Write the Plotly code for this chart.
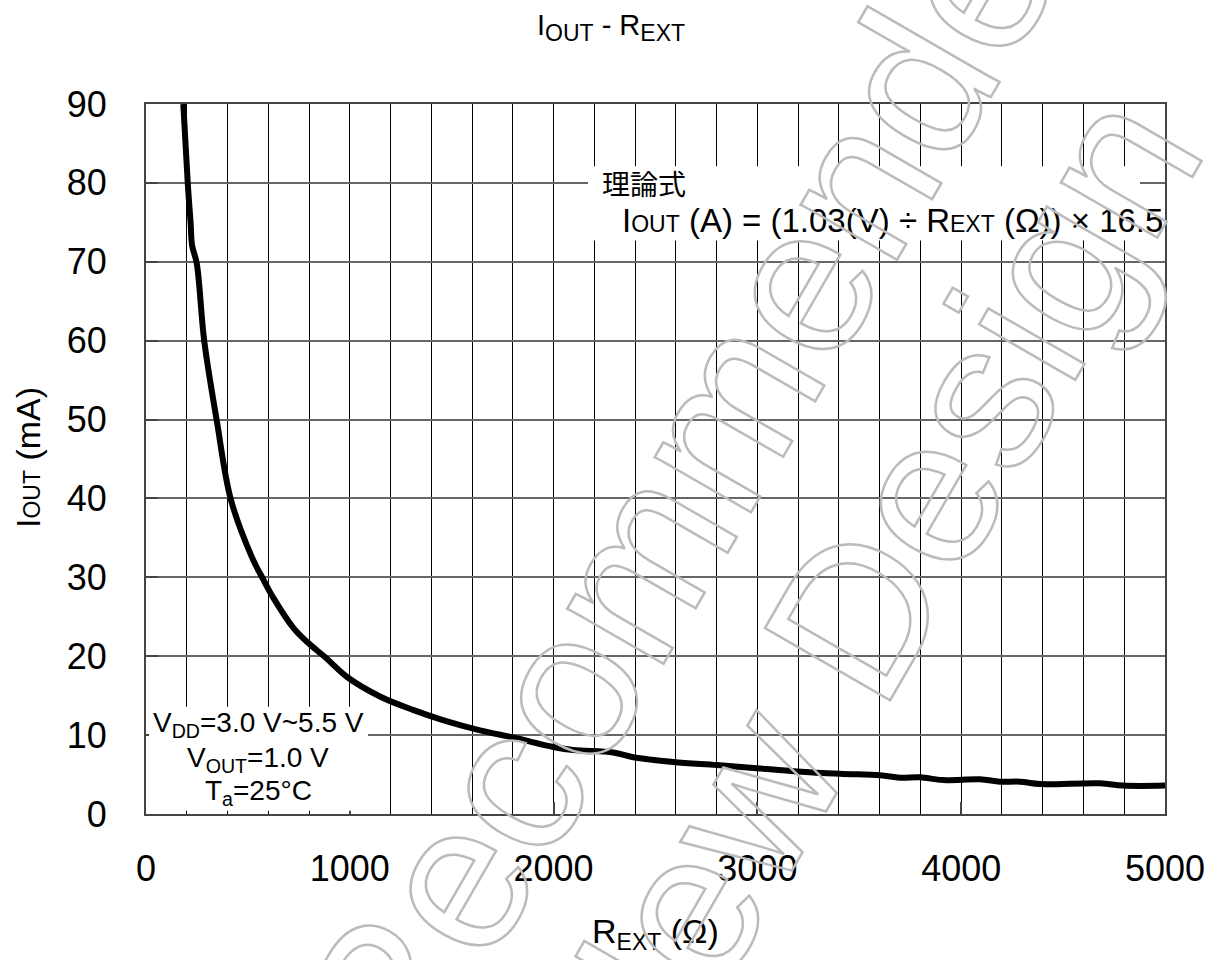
import plotly.graph_objects as go

# Output current vs. external resistor (measured curve)
r_ext_ohm = [183, 205, 219, 226, 249, 286, 347, 416, 519, 576, 625, 723, 795, 878,
             985, 1148, 1310, 1457, 1639, 1802, 1999, 2097, 2293, 2391, 2587, 2800,
             2997, 3193, 3405, 3602, 3700, 3798, 3911, 4092, 4190, 4289, 4387, 4681,
             4794, 5000]
i_out_ma = [90.0, 79.9, 74.9, 72.1, 69.8, 59.9, 49.9, 39.9, 32.6, 29.7, 27.4, 23.6,
            21.7, 19.9, 17.4, 14.9, 13.2, 11.9, 10.6, 9.7, 8.5, 8.1, 7.8, 7.2, 6.6,
            6.2, 5.8, 5.4, 5.1, 4.9, 4.6, 4.65, 4.3, 4.4, 4.1, 4.1, 3.8, 3.9, 3.6, 3.6]

x_ticks = [0, 1000, 2000, 3000, 4000, 5000]
y_ticks = [0, 10, 20, 30, 40, 50, 60, 70, 80, 90]

FONT = "Arial, 'Liberation Sans', 'Noto Sans CJK JP', sans-serif"
SC = "<span style='font-size:23px'>{}</span>"

fig = go.Figure()
fig.add_trace(go.Scatter(
    x=r_ext_ohm, y=i_out_ma, mode="lines",
    line=dict(color="black", width=6, shape="spline", smoothing=1.0),
    showlegend=False, hoverinfo="skip",
))

fig.update_layout(
    width=1209, height=960, autosize=False,
    margin=dict(l=146, r=44, t=104, b=146, autoexpand=False),
    paper_bgcolor="white", plot_bgcolor="white",
    font=dict(family=FONT, size=33, color="black"),
    title=dict(
        text="I<sub><span style='font-size:23px'>OUT</span></sub> - R<sub><span style='font-size:23px'>EXT</span></sub>",
        x=611 / 1209, xref="container", xanchor="center",
        y=1 - 25 / 960, yref="container", yanchor="middle",
        font=dict(size=29, family=FONT, color="black"),
        automargin=False,
    ),
    xaxis=dict(
        range=[0, 5000], tickvals=x_ticks, ticktext=[str(v) for v in x_ticks],
        showgrid=True, gridcolor="black", gridwidth=1,
        minor=dict(dtick=200, tick0=0, showgrid=True, gridcolor="black", gridwidth=1),
        showline=True, linecolor="#444", linewidth=2, mirror=True,
        ticks="inside", ticklen=12, tickwidth=2, tickcolor="#444",
        ticklabelstandoff=22, zeroline=False, automargin=False,
        tickfont=dict(size=36, family=FONT, color="black"),
    ),
    yaxis=dict(
        range=[0, 90], tickvals=y_ticks, ticktext=[str(v) for v in y_ticks],
        showgrid=True, gridcolor="#666", gridwidth=1.5,
        showline=True, linecolor="#444", linewidth=2, mirror=True,
        ticks="inside", ticklen=12, tickwidth=2, tickcolor="#444",
        ticklabelstandoff=30, zeroline=False, automargin=False,
        tickfont=dict(size=36, family=FONT, color="black"),
    ),
)

# White panels behind the note texts
fig.add_shape(type="rect", xref="x", yref="y", x0=2169, x1=4877, y0=72.7, y1=82.1,
              fillcolor="white", line=dict(width=0), layer="above")
fig.add_shape(type="rect", xref="x", yref="y", x0=15, x1=1089, y0=0.4, y1=13.6,
              fillcolor="white", line=dict(width=0), layer="above")

def px_x(px):
    return (px - 146) / 1019

def px_y(py):
    return (814 - py) / 710

notes = [
    ("理論式", 600, 186, "left", 28),
    ("I" + SC.format("OUT") + " (A) = (1.03(V) ÷ R" + SC.format("EXT") + " (Ω)) × 16.5",
     620, 220, "left", 33),
    ("V<sub>DD</sub>=3.0 V~5.5 V", 258, 724, "center", 28),
    ("V<sub>OUT</sub>=1.0 V", 258, 759, "center", 28),
    ("T<sub>a</sub>=25°C", 258, 792, "center", 28),
]
for text, px, py, anchor, size in notes:
    fig.add_annotation(text=text, xref="paper", yref="paper", x=px_x(px), y=px_y(py),
                       xanchor=anchor, yanchor="middle", showarrow=False,
                       font=dict(size=size, family=FONT, color="black"))

# Axis titles
fig.add_annotation(text="R<sub><span style='font-size:23px'>EXT</span></sub> (Ω)",
                   xref="paper", yref="paper", x=px_x(655), y=px_y(933),
                   xanchor="center", yanchor="middle", showarrow=False,
                   font=dict(size=34, family=FONT, color="black"))
fig.add_annotation(text="I" + SC.format("OUT") + " (mA)",
                   xref="paper", yref="paper", x=px_x(28), y=px_y(458),
                   xanchor="center", yanchor="middle", textangle=-90, showarrow=False,
                   font=dict(size=34, family=FONT, color="black"))

# Outlined diagonal watermark
for text, px, py in [("Recommended", 704, 448), ("New Design", 862, 603)]:
    fig.add_annotation(text=text, xref="paper", yref="paper", x=px_x(px), y=px_y(py),
                       xanchor="center", yanchor="middle", textangle=-60,
                       showarrow=False,
                       font=dict(size=210, family=FONT, color="#bbbbbb"))

outline_js = """
var gd = document.getElementById('{plot_id}');
gd.querySelectorAll('g.annotation text.annotation-text').forEach(function(t){
  var s = t.textContent;
  if (s === 'Recommended' || s === 'New Design') {
    t.style.fill = 'none';
    t.style.stroke = '#bbbbbb';
    t.style.strokeWidth = '2.5px';
  }
});
"""

fig.write_html("out.html", post_script=outline_js)
